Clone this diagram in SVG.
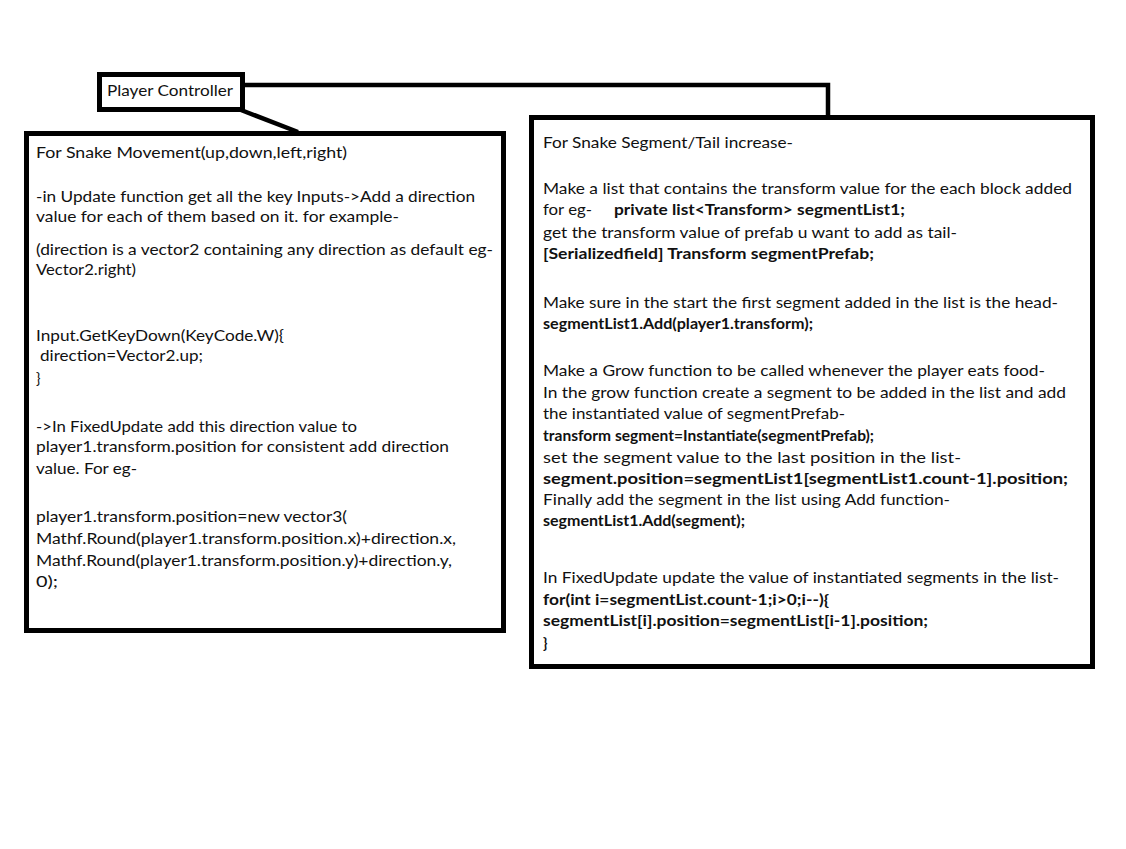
<svg xmlns="http://www.w3.org/2000/svg" width="1126" height="849" viewBox="0 0 1126 849">
<style>
.box{fill:#fff;stroke:#000;stroke-width:5}
.conn{fill:none;stroke:#000;stroke-width:4.5}
text{font-family:Lato,"Liberation Sans",sans-serif;font-size:15px;fill:#111}
.b{font-weight:bold;font-size:14.5px}
</style>
<rect width="1126" height="849" fill="#fff"/>
<g id="connectors">
<polyline class="conn" points="243,85 828,85 828,118"/>
<line class="conn" x1="241" y1="110" x2="298" y2="132"/>
</g>
<g id="player-controller">
<rect class="box" x="99.5" y="74.5" width="143" height="35"/>
<text x="107" y="96" textLength="126" lengthAdjust="spacingAndGlyphs">Player Controller</text>
</g>
<g id="snake-movement">
<rect class="box" x="26.5" y="133.5" width="477" height="497"/>
<text x="36" y="158" textLength="311" lengthAdjust="spacingAndGlyphs">For Snake Movement(up,down,left,right)</text>
<text x="36" y="202" textLength="439" lengthAdjust="spacingAndGlyphs">-in Update function get all the key Inputs-&gt;Add a direction</text>
<text x="36" y="222" textLength="363" lengthAdjust="spacingAndGlyphs">value for each of them based on it. for example-</text>
<text x="36" y="255" textLength="457" lengthAdjust="spacingAndGlyphs">(direction is a vector2 containing any direction as default eg-</text>
<text x="36" y="275" textLength="100" lengthAdjust="spacingAndGlyphs">Vector2.right)</text>
<text x="36" y="341" textLength="248" lengthAdjust="spacingAndGlyphs">Input.GetKeyDown(KeyCode.W){</text>
<text x="40" y="361" textLength="163" lengthAdjust="spacingAndGlyphs">direction=Vector2.up;</text>
<text x="36" y="384">}</text>
<text x="36" y="432" textLength="321" lengthAdjust="spacingAndGlyphs">-&gt;In FixedUpdate add this direction value to</text>
<text x="36" y="452" textLength="413" lengthAdjust="spacingAndGlyphs">player1.transform.position for consistent add direction</text>
<text x="36" y="474" textLength="101" lengthAdjust="spacingAndGlyphs">value. For eg-</text>
<text x="36" y="522" textLength="311" lengthAdjust="spacingAndGlyphs">player1.transform.position=new vector3(</text>
<text x="36" y="544" textLength="420" lengthAdjust="spacingAndGlyphs">Mathf.Round(player1.transform.position.x)+direction.x,</text>
<text x="36" y="566" textLength="416" lengthAdjust="spacingAndGlyphs">Mathf.Round(player1.transform.position.y)+direction.y,</text>
<text x="36" y="587" textLength="22" lengthAdjust="spacingAndGlyphs">0);</text>
</g>
<g id="snake-segment">
<rect class="box" x="531.5" y="117.5" width="561" height="549"/>
<text x="543" y="148" textLength="250" lengthAdjust="spacingAndGlyphs">For Snake Segment/Tail increase-</text>
<text x="543" y="194" textLength="529" lengthAdjust="spacingAndGlyphs">Make a list that contains the transform value for the each block added</text>
<text x="543" y="215" textLength="49" lengthAdjust="spacingAndGlyphs">for eg-</text>
<text class="b" x="614" y="215" textLength="291" lengthAdjust="spacingAndGlyphs">private list&lt;Transform&gt; segmentList1;</text>
<text x="543" y="238" textLength="414" lengthAdjust="spacingAndGlyphs">get the transform value of prefab u want to add as tail-</text>
<text class="b" x="543" y="259" textLength="331" lengthAdjust="spacingAndGlyphs">[Serializedfield] Transform segmentPrefab;</text>
<text x="543" y="308" textLength="515" lengthAdjust="spacingAndGlyphs">Make sure in the start the first segment added in the list is the head-</text>
<text class="b" x="543" y="329" textLength="270" lengthAdjust="spacingAndGlyphs">segmentList1.Add(player1.transform);</text>
<text x="543" y="376" textLength="502" lengthAdjust="spacingAndGlyphs">Make a Grow function to be called whenever the player eats food-</text>
<text x="543" y="398" textLength="523" lengthAdjust="spacingAndGlyphs">In the grow function create a segment to be added in the list and add</text>
<text x="543" y="419" textLength="302" lengthAdjust="spacingAndGlyphs">the instantiated value of segmentPrefab-</text>
<text class="b" x="543" y="441" textLength="331" lengthAdjust="spacingAndGlyphs">transform segment=Instantiate(segmentPrefab);</text>
<text x="543" y="463" textLength="418" lengthAdjust="spacingAndGlyphs">set the segment value to the last position in the list-</text>
<text class="b" x="543" y="484" textLength="525" lengthAdjust="spacingAndGlyphs">segment.position=segmentList1[segmentList1.count-1].position;</text>
<text x="543" y="505" textLength="407" lengthAdjust="spacingAndGlyphs">Finally add the segment in the list using Add function-</text>
<text class="b" x="543" y="526" textLength="202" lengthAdjust="spacingAndGlyphs">segmentList1.Add(segment);</text>
<text x="543" y="583" textLength="516" lengthAdjust="spacingAndGlyphs">In FixedUpdate update the value of instantiated segments in the list-</text>
<text class="b" x="543" y="605" textLength="286" lengthAdjust="spacingAndGlyphs">for(int i=segmentList.count-1;i&gt;0;i--){</text>
<text class="b" x="543" y="626" textLength="385" lengthAdjust="spacingAndGlyphs">segmentList[i].position=segmentList[i-1].position;</text>
<text class="b" x="543" y="648">}</text>
</g>
</svg>
